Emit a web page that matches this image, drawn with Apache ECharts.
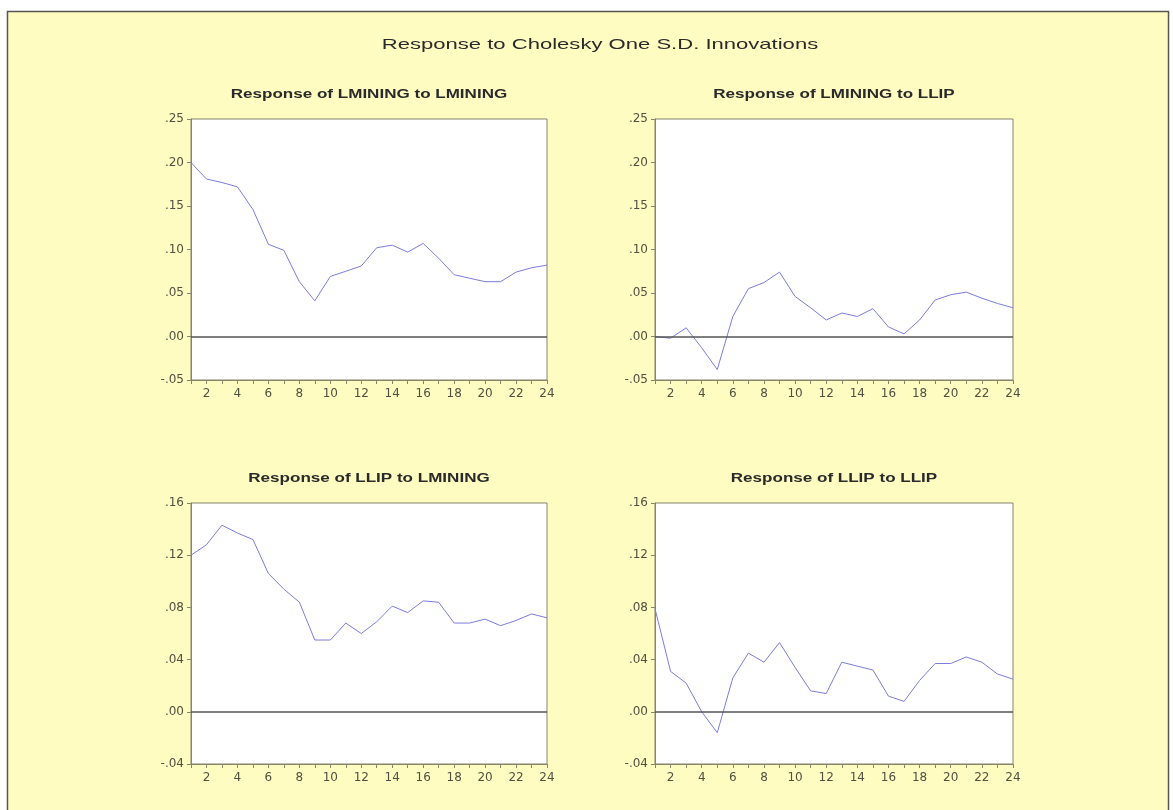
<!DOCTYPE html>
<html>
<head>
<meta charset="utf-8">
<title>Response to Cholesky One S.D. Innovations</title>
<script src="https://cdn.jsdelivr.net/npm/echarts@6/dist/echarts.min.js"></script>
<style>
    html, body { margin: 0; padding: 0; background: #fff; }
    #chart { width: 1173px; height: 810px; }
</style>
</head>
<body>
<div id="chart"></div>
<script>
// periods on the x axis
var periods = ['1','2','3','4','5','6','7','8','9','10','11','12','13','14','15','16','17','18','19','20','21','22','23','24'];

// response values
var miningToMining = [0.200, 0.181, 0.177, 0.172, 0.146, 0.106, 0.099, 0.063, 0.041, 0.069, 0.075, 0.081,
    0.102, 0.105, 0.097, 0.107, 0.090, 0.071, 0.067, 0.063, 0.063, 0.074, 0.079, 0.082];
var miningToLlip = [0.000, -0.002, 0.010, -0.013, -0.038, 0.023, 0.055, 0.062, 0.074, 0.046, 0.033, 0.019,
    0.027, 0.023, 0.032, 0.011, 0.003, 0.019, 0.042, 0.048, 0.051, 0.044, 0.038, 0.033];
var llipToMining = [0.120, 0.128, 0.143, 0.137, 0.132, 0.106, 0.094, 0.084, 0.055, 0.055, 0.068, 0.060,
    0.069, 0.081, 0.076, 0.085, 0.084, 0.068, 0.068, 0.071, 0.066, 0.070, 0.075, 0.072];
var llipToLlip = [0.079, 0.031, 0.022, 0.000, -0.016, 0.026, 0.045, 0.038, 0.053, 0.034, 0.016, 0.014,
    0.038, 0.035, 0.032, 0.012, 0.008, 0.024, 0.037, 0.037, 0.042, 0.038, 0.029, 0.025];

var mainTitle = 'Response to Cholesky One S.D. Innovations';
var panelTitles = ['Response of LMINING to LMINING', 'Response of LMINING to LLIP',
    'Response of LLIP to LMINING', 'Response of LLIP to LLIP'];
// y scales: top row, bottom row
var yScales = [{ min: -0.05, max: 0.25, interval: 0.05 }, { min: -0.04, max: 0.16, interval: 0.04 }];

var panelData = [miningToMining, miningToLlip, llipToMining, llipToLlip];
var boxes = [
    { left: 191, top: 119, width: 356, height: 261 },
    { left: 655, top: 119, width: 358, height: 261 },
    { left: 191, top: 503, width: 356, height: 261 },
    { left: 655, top: 503, width: 358, height: 261 }
];

var axisColor = '#85856a';
var labelColor = '#505040';
var lineColor = '#7c7cde';

function tickText(v) {
    return v.toFixed(2).replace('0.', '.');
}

var chart = echarts.init(document.getElementById('chart'));
var grids = [], xAxes = [], yAxes = [], series = [];
var graphics = [
    // yellow frame behind everything
    { type: 'rect', z: -10, shape: { x: 7.5, y: 11.5, width: 1161, height: 805 },
      style: { fill: '#fffcc2', stroke: '#555', lineWidth: 1.5 } },
    { type: 'text', x: 600, y: 45, scaleX: 1.47,
      style: { text: mainTitle, align: 'center', verticalAlign: 'middle', fill: '#2a2a2a',
               font: '15px "Liberation Sans", Arial, sans-serif' } }
];

for (var i = 0; i < 4; i++) {
    var b = boxes[i];
    var sc = yScales[i < 2 ? 0 : 1];
    grids.push({ left: b.left, top: b.top, width: b.width, height: b.height, show: true,
        backgroundColor: '#fff', borderColor: axisColor, borderWidth: 1 });
    xAxes.push({
        type: 'category', gridIndex: i, data: periods, boundaryGap: false,
        axisLine: { onZero: false, lineStyle: { color: axisColor } },
        axisTick: { interval: 0, length: 4, lineStyle: { color: axisColor } },
        axisLabel: { interval: function (idx) { return idx % 2 === 1; }, margin: 8,
            color: labelColor, fontSize: 12, fontFamily: 'DejaVu Sans' },
        splitLine: { show: false }
    });
    yAxes.push({
        type: 'value', gridIndex: i, min: sc.min, max: sc.max, interval: sc.interval,
        axisLine: { show: true, lineStyle: { color: axisColor } },
        axisTick: { show: true, length: 4, lineStyle: { color: axisColor } },
        axisLabel: { formatter: tickText, margin: 7, color: labelColor, fontSize: 12, fontFamily: 'DejaVu Sans' },
        splitLine: { show: false }
    });
    series.push({
        type: 'line', xAxisIndex: i, yAxisIndex: i, data: panelData[i],
        showSymbol: false, symbol: 'none', silent: true,
        lineStyle: { color: lineColor, width: 1 }, itemStyle: { color: lineColor },
        markLine: { silent: true, symbol: 'none', label: { show: false },
            lineStyle: { color: '#555', width: 1.5, type: 'solid' }, data: [{ yAxis: 0 }] }
    });
    graphics.push({ type: 'text', x: b.left + b.width / 2, y: b.top - 24, scaleX: 1.42,
        style: { text: panelTitles[i], align: 'center', verticalAlign: 'middle', fill: '#2a2a2a',
                 font: 'bold 12px "Liberation Sans", Arial, sans-serif' } });
}

chart.setOption({
    backgroundColor: '#fff',
    animation: false,
    grid: grids,
    xAxis: xAxes,
    yAxis: yAxes,
    series: series,
    graphic: graphics
});
</script>
</body>
</html>
